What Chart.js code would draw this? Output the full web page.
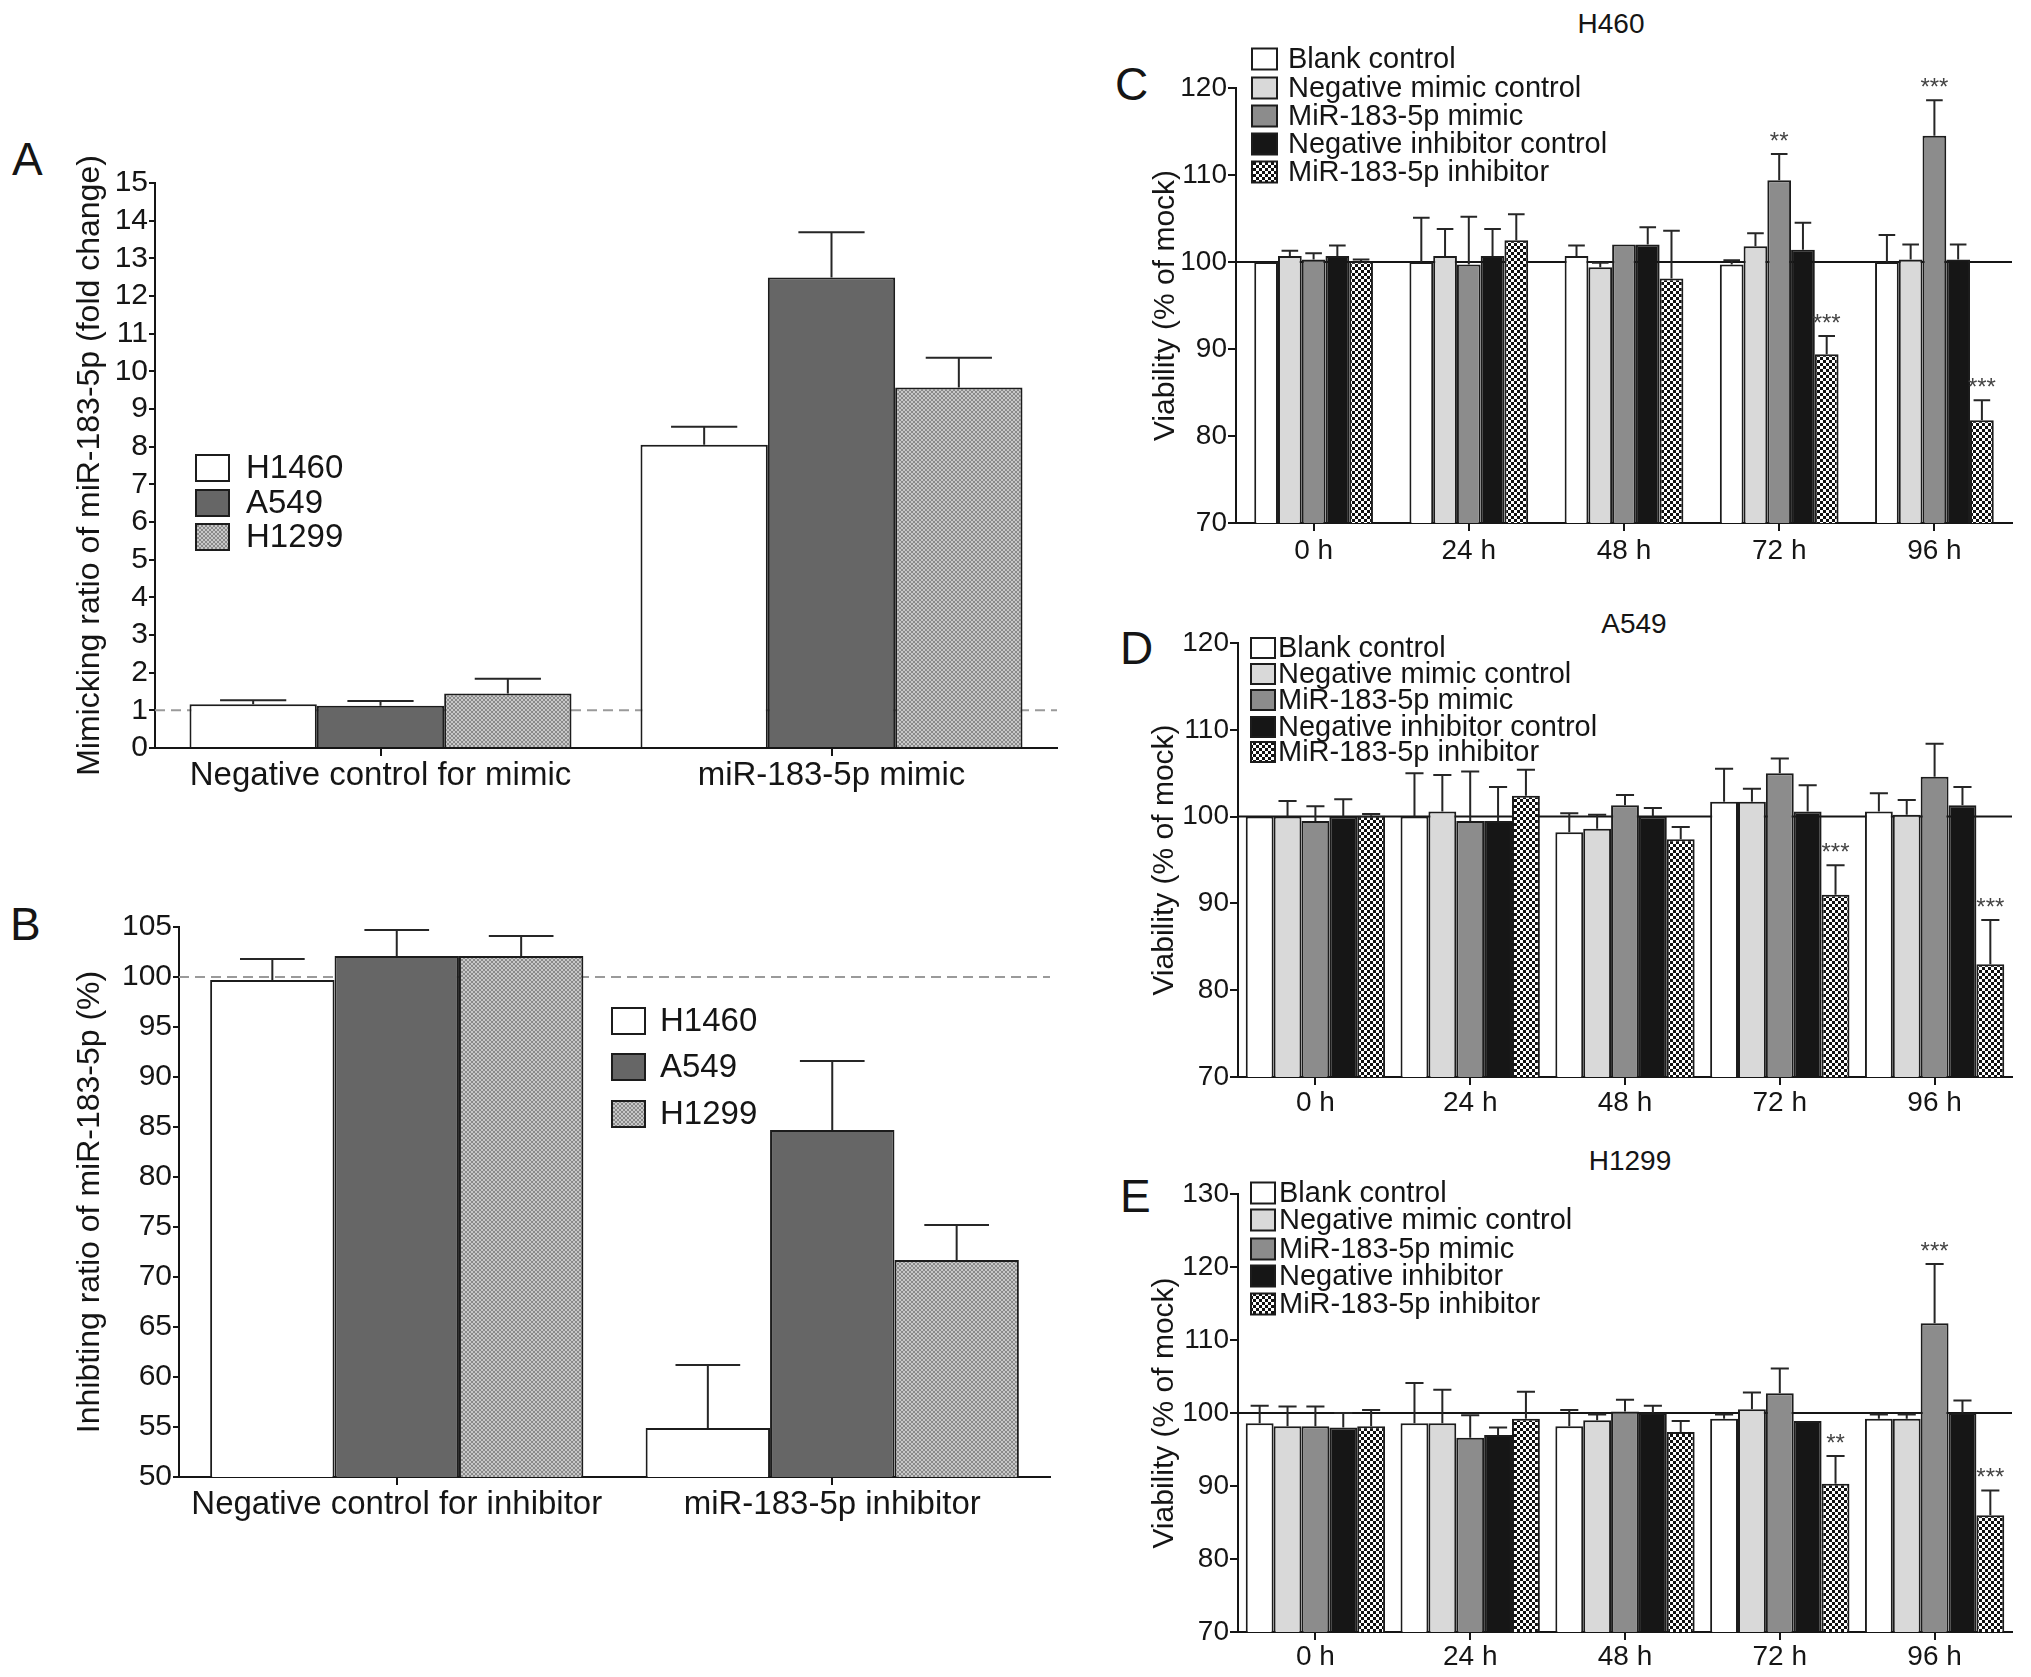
<!DOCTYPE html>
<html>
<head>
<meta charset="utf-8">
<script src="https://cdn.jsdelivr.net/npm/chart.js@4.4.1/dist/chart.umd.min.js"></script>
<style>
  html, body { margin: 0; padding: 0; background: #fff; }
  body { position: relative; width: 2031px; height: 1677px; overflow: hidden;
         font-family: "Liberation Sans", Arial, sans-serif; color: #151515; }
  canvas { position: absolute; }
  .panel { position: absolute; font-size: 46px; line-height: 1; }
  .ttl { position: absolute; font-size: 28px; line-height: 1; width: 240px; text-align: center; }
</style>
</head>
<body>
<div class="panel" style="left:12px;top:136px">A</div>
<div class="panel" style="left:10px;top:901px">B</div>
<div class="panel" style="left:1115px;top:61px">C</div>
<div class="panel" style="left:1120px;top:625px">D</div>
<div class="panel" style="left:1120px;top:1173px">E</div>
<div class="ttl" style="left:1491px;top:10px">H460</div>
<div class="ttl" style="left:1514px;top:610px">A549</div>
<div class="ttl" style="left:1510px;top:1147px">H1299</div>

<canvas id="chartA"></canvas>
<canvas id="chartB"></canvas>
<canvas id="chartC"></canvas>
<canvas id="chartD"></canvas>
<canvas id="chartE"></canvas>

<script>
// ---- data: panels A/B (mean and upper SEM) ----
const cellLines = ['H1460', 'A549', 'H1299'];
const mimicGroups = ['Negative control for mimic', 'miR-183-5p mimic'];
const mimicH1460 = [1.16, 8.05];
const mimicH1460Sem = [0.11, 0.48];
const mimicA549 = [1.12, 12.49];
const mimicA549Sem = [0.13, 1.20];
const mimicH1299 = [1.45, 9.57];
const mimicH1299Sem = [0.39, 0.79];

const inhibGroups = ['Negative control for inhibitor', 'miR-183-5p inhibitor'];
const inhibH1460 = [99.7, 54.9];
const inhibH1460Sem = [2.1, 6.3];
const inhibA549 = [102.1, 84.7];
const inhibA549Sem = [2.6, 6.9];
const inhibH1299 = [102.1, 71.7];
const inhibH1299Sem = [2.0, 3.5];

// ---- data: panels C/D/E (viability, % of mock) ----
const timePoints = ['0 h', '24 h', '48 h', '72 h', '96 h'];
const treatments = ['Blank control', 'Negative mimic control', 'MiR-183-5p mimic',
                    'Negative inhibitor control', 'MiR-183-5p inhibitor'];
const treatmentsE = ['Blank control', 'Negative mimic control', 'MiR-183-5p mimic',
                     'Negative inhibitor', 'MiR-183-5p inhibitor'];

const h460Blank = [100.0, 100.0, 100.7, 99.7, 100.0];
const h460BlankSem = [0.0, 5.1, 1.2, 0.5, 3.1];
const h460NegMimic = [100.7, 100.7, 99.4, 101.8, 100.3];
const h460NegMimicSem = [0.6, 3.1, 0.5, 1.5, 1.7];
const h460Mimic = [100.3, 99.7, 102.0, 109.4, 114.5];
const h460MimicSem = [0.7, 5.5, 0.0, 3.0, 4.1];
const h460NegInhib = [100.7, 100.7, 102.0, 101.4, 100.3];
const h460NegInhibSem = [1.2, 3.1, 2.0, 3.1, 1.7];
const h460Inhib = [100.1, 102.5, 98.1, 89.4, 81.8];
const h460InhibSem = [0.2, 3.0, 5.5, 2.1, 2.3];
const h460MimicSig = ['', '', '', '**', '***'];
const h460InhibSig = ['', '', '', '***', '***'];

const a549Blank = [100.0, 100.0, 98.2, 101.7, 100.6];
const a549BlankSem = [0.0, 5.0, 2.2, 3.8, 2.1];
const a549NegMimic = [100.0, 100.6, 98.6, 101.7, 100.2];
const a549NegMimicSem = [1.8, 4.2, 1.6, 1.5, 1.7];
const a549Mimic = [99.5, 99.5, 101.3, 105.0, 104.6];
const a549MimicSem = [1.7, 5.7, 1.2, 1.7, 3.8];
const a549NegInhib = [100.0, 99.5, 100.0, 100.6, 101.3];
const a549NegInhibSem = [2.0, 3.9, 1.0, 3.0, 2.1];
const a549Inhib = [100.1, 102.4, 97.4, 91.0, 83.0];
const a549InhibSem = [0.2, 3.0, 1.4, 3.4, 5.1];
const a549InhibSig = ['', '', '', '***', '***'];

const h1299Blank = [98.6, 98.6, 98.2, 99.2, 99.2];
const h1299BlankSem = [2.4, 5.5, 2.2, 0.6, 0.6];
const h1299NegMimic = [98.2, 98.6, 99.0, 100.5, 99.2];
const h1299NegMimicSem = [2.7, 4.6, 0.8, 2.3, 0.6];
const h1299Mimic = [98.2, 96.6, 100.2, 102.7, 112.3];
const h1299MimicSem = [2.7, 3.1, 1.6, 3.4, 8.1];
const h1299NegInhib = [98.0, 97.0, 100.0, 98.9, 100.0];
const h1299NegInhibSem = [2.0, 1.0, 1.0, 0.0, 1.7];
const h1299Inhib = [98.2, 99.2, 97.4, 90.3, 86.0];
const h1299InhibSem = [2.2, 3.7, 1.5, 3.8, 3.4];
const h1299MimicSig = ['', '', '', '', '***'];
const h1299InhibSig = ['', '', '', '**', '***'];

// ---- styling ----
const FONT = '"Liberation Sans", Arial, sans-serif';
const INK = '#151515';

function checker(cell, a, b) {
  const t = document.createElement('canvas');
  t.width = t.height = cell * 2;
  const g = t.getContext('2d');
  g.fillStyle = a; g.fillRect(0, 0, cell * 2, cell * 2);
  g.fillStyle = b; g.fillRect(0, 0, cell, cell); g.fillRect(cell, cell, cell, cell);
  return g.createPattern(t, 'repeat');
}
const dotGrey = checker(2, '#8a8a8a', '#c8c8c8');   // H1299 fill
const chequer = checker(3, '#111111', '#ffffff');   // inhibitor fill
const treatFills = ['#ffffff', '#d9d9d9', '#8c8c8c', '#161616', chequer];
const lineFills = ['#ffffff', '#666666', dotGrey];

// error bars (upper only) + significance stars
const errorBars = {
  id: 'errorBars',
  afterDatasetsDraw(chart, args, opts) {
    const { ctx } = chart;
    const y = chart.scales.y;
    ctx.save();
    chart.data.datasets.forEach((ds, i) => {
      const meta = chart.getDatasetMeta(i);
      meta.data.forEach((bar, j) => {
        const p = bar.getProps(['x', 'y', 'width'], true);
        const err = ds.errors ? ds.errors[j] : 0;
        const top = y.getPixelForValue(ds.data[j] + err);
        if (err > 0) {
          const half = p.width * opts.capRatio / 2;
          ctx.strokeStyle = opts.color;
          ctx.lineWidth = opts.width;
          ctx.beginPath();
          ctx.moveTo(p.x, p.y);
          ctx.lineTo(p.x, top);
          ctx.moveTo(p.x - half, top);
          ctx.lineTo(p.x + half, top);
          ctx.stroke();
        }
        if (ds.stars && ds.stars[j]) {
          ctx.fillStyle = '#444';
          ctx.font = opts.starFont;
          ctx.textAlign = 'center';
          ctx.textBaseline = 'alphabetic';
          ctx.fillText(ds.stars[j], p.x, top - 5);
        }
      });
    });
    ctx.restore();
  }
};

// reference line (behind the bars)
const refLine = {
  id: 'refLine',
  beforeDatasetsDraw(chart, args, opts) {
    const { ctx, chartArea } = chart;
    const py = chart.scales.y.getPixelForValue(opts.value);
    ctx.save();
    ctx.strokeStyle = opts.color;
    ctx.lineWidth = opts.width;
    ctx.setLineDash(opts.dash || []);
    ctx.beginPath();
    ctx.moveTo(chartArea.left, py);
    ctx.lineTo(chartArea.right, py);
    ctx.stroke();
    ctx.restore();
  }
};

// legend drawn inside the plot at page coordinates
const insideLegend = {
  id: 'insideLegend',
  afterDraw(chart, args, opts) {
    const { ctx } = chart;
    const ox = parseFloat(chart.canvas.style.left);
    const oy = parseFloat(chart.canvas.style.top);
    ctx.save();
    ctx.font = opts.font;
    ctx.textBaseline = 'middle';
    ctx.textAlign = 'left';
    chart.data.datasets.forEach((ds, i) => {
      const cy = opts.rows[i] - oy;
      const bx = opts.boxX - ox;
      ctx.fillStyle = ds.backgroundColor;
      ctx.fillRect(bx, cy - opts.boxH / 2, opts.boxW, opts.boxH);
      ctx.strokeStyle = ds.borderColor;
      ctx.lineWidth = 2;
      ctx.strokeRect(bx, cy - opts.boxH / 2, opts.boxW, opts.boxH);
      ctx.fillStyle = INK;
      ctx.fillText(ds.label, opts.textX - ox, cy + 1);
    });
    ctx.restore();
  }
};

function place(id, area, pad) {
  const c = document.getElementById(id);
  const w = area[2] - area[0] + pad.l + pad.r;
  const h = area[3] - area[1] + pad.t + pad.b;
  c.width = w; c.height = h;
  c.style.left = (area[0] - pad.l) + 'px';
  c.style.top = (area[1] - pad.t) + 'px';
  c.style.width = w + 'px';
  c.style.height = h + 'px';
  return c;
}

function makeSets(names, means, sems, fills, catPct, stars) {
  return names.map((name, i) => ({
    label: name,
    data: means[i],
    errors: sems[i],
    stars: stars ? stars[i] : null,
    backgroundColor: fills[i],
    borderColor: '#1c1c1c',
    borderWidth: 2,
    barPercentage: 1,
    categoryPercentage: catPct
  }));
}

function barChart(id, area, pad, cfg) {
  const canvas = place(id, area, pad);
  return new Chart(canvas, {
    type: 'bar',
    data: { labels: cfg.labels, datasets: cfg.datasets },
    options: {
      responsive: false,
      animation: false,
      devicePixelRatio: 1,
      layout: { padding: { left: 0, top: pad.t, right: pad.r, bottom: 0 } },
      plugins: {
        legend: { display: false },
        tooltip: { enabled: false },
        errorBars: { capRatio: cfg.capRatio, color: '#262626', width: 2, starFont: '24px ' + FONT },
        refLine: cfg.refLine,
        insideLegend: cfg.legend
      },
      scales: {
        x: {
          grid: { drawOnChartArea: false, offset: false, tickLength: 8, color: INK, lineWidth: 2 },
          border: { color: INK, width: 2 },
          ticks: { color: INK, font: { family: FONT, size: cfg.xFont }, padding: cfg.xPad,
                   maxRotation: 0, autoSkip: false },
          afterFit: s => { s.height = pad.b; }
        },
        y: {
          min: cfg.yMin, max: cfg.yMax,
          grid: { drawOnChartArea: false, tickLength: cfg.yTick, color: INK, lineWidth: 2 },
          border: { color: INK, width: 2 },
          ticks: { stepSize: cfg.yStep, autoSkip: false, color: INK,
                   font: { family: FONT, size: cfg.yFont }, padding: 1 },
          title: { display: true, text: cfg.yTitle, color: INK,
                   font: { family: FONT, size: cfg.titleFont }, padding: { top: cfg.titlePad, bottom: 0 } },
          afterFit: s => { s.width = pad.l; }
        }
      }
    },
    plugins: [refLine, errorBars, insideLegend]
  });
}

// ---- A ----
barChart('chartA', [155, 183, 1057, 748], { l: 150, t: 40, r: 10, b: 60 }, {
  labels: mimicGroups,
  datasets: makeSets(cellLines, [mimicH1460, mimicA549, mimicH1299],
                     [mimicH1460Sem, mimicA549Sem, mimicH1299Sem], lineFills, 0.847),
  yMin: 0, yMax: 15, yStep: 1, yFont: 30, yTick: 6, xFont: 33, xPad: 0, capRatio: 0.52,
  yTitle: 'Mimicking ratio of miR-183-5p (fold change)', titleFont: 32, titlePad: 66,
  refLine: { value: 1, color: '#9a9a9a', width: 2, dash: [10, 6] },
  legend: { font: '33px ' + FONT, boxX: 196, boxW: 33, boxH: 26, textX: 246, rows: [468, 503, 537] }
});

// ---- B ----
barChart('chartB', [179, 927, 1050, 1477], { l: 170, t: 30, r: 10, b: 60 }, {
  labels: inhibGroups,
  datasets: makeSets(cellLines, [inhibH1460, inhibA549, inhibH1299],
                     [inhibH1460Sem, inhibA549Sem, inhibH1299Sem], lineFills, 0.857),
  yMin: 50, yMax: 105, yStep: 5, yFont: 30, yTick: 6, xFont: 33, xPad: 0, capRatio: 0.52,
  yTitle: 'Inhibting ratio of miR-183-5p (%)', titleFont: 32, titlePad: 62,
  refLine: { value: 100, color: '#9a9a9a', width: 2, dash: [10, 6] },
  legend: { font: '33px ' + FONT, boxX: 612, boxW: 33, boxH: 26, textX: 660, rows: [1021, 1067, 1114] }
});

// ---- C ----
barChart('chartC', [1236, 88, 2012, 523], { l: 127, t: 55, r: 12, b: 50 }, {
  labels: timePoints,
  datasets: makeSets(treatments,
    [h460Blank, h460NegMimic, h460Mimic, h460NegInhib, h460Inhib],
    [h460BlankSem, h460NegMimicSem, h460MimicSem, h460NegInhibSem, h460InhibSem],
    treatFills, 0.765, [null, null, h460MimicSig, null, h460InhibSig]),
  yMin: 70, yMax: 120, yStep: 10, yFont: 28, yTick: 8, xFont: 28, xPad: 3, capRatio: 0.7,
  yTitle: 'Viability (% of mock)', titleFont: 30, titlePad: 39,
  refLine: { value: 100, color: INK, width: 2 },
  legend: { font: '29px ' + FONT, boxX: 1252, boxW: 25, boxH: 21, textX: 1288,
            rows: [59, 88, 116, 144, 172] }
});

// ---- D ----
barChart('chartD', [1238, 643, 2012, 1077], { l: 129, t: 30, r: 12, b: 50 }, {
  labels: timePoints,
  datasets: makeSets(treatments,
    [a549Blank, a549NegMimic, a549Mimic, a549NegInhib, a549Inhib],
    [a549BlankSem, a549NegMimicSem, a549MimicSem, a549NegInhibSem, a549InhibSem],
    treatFills, 0.9, [null, null, null, null, a549InhibSig]),
  yMin: 70, yMax: 120, yStep: 10, yFont: 28, yTick: 8, xFont: 28, xPad: 1, capRatio: 0.65,
  yTitle: 'Viability (% of mock)', titleFont: 30, titlePad: 38,
  refLine: { value: 100, color: INK, width: 2 },
  legend: { font: '29px ' + FONT, boxX: 1251, boxW: 24, boxH: 20, textX: 1278,
            rows: [648, 674, 700, 727, 752] }
});

// ---- E ----
barChart('chartE', [1238, 1194, 2012, 1632], { l: 129, t: 30, r: 12, b: 45 }, {
  labels: timePoints,
  datasets: makeSets(treatmentsE,
    [h1299Blank, h1299NegMimic, h1299Mimic, h1299NegInhib, h1299Inhib],
    [h1299BlankSem, h1299NegMimicSem, h1299MimicSem, h1299NegInhibSem, h1299InhibSem],
    treatFills, 0.9, [null, null, h1299MimicSig, null, h1299InhibSig]),
  yMin: 70, yMax: 130, yStep: 10, yFont: 28, yTick: 8, xFont: 28, xPad: 0, capRatio: 0.65,
  yTitle: 'Viability (% of mock)', titleFont: 30, titlePad: 38,
  refLine: { value: 100, color: INK, width: 2 },
  legend: { font: '29px ' + FONT, boxX: 1251, boxW: 24, boxH: 21, textX: 1279,
            rows: [1193, 1220, 1249, 1276, 1304] }
});
</script>
</body>
</html>
